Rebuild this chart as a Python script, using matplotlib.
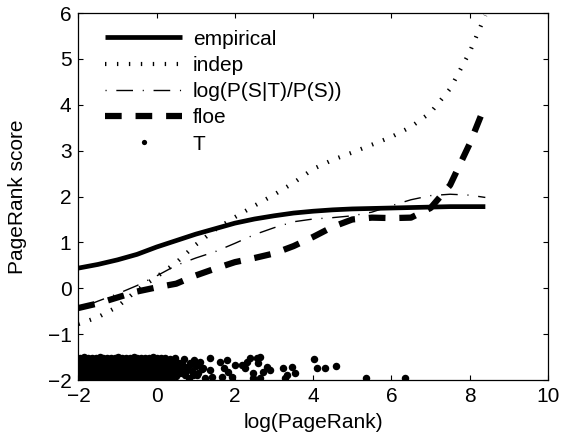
import matplotlib
matplotlib.use("Agg")
import matplotlib.pyplot as plt
import numpy as np

x_grid = [-2.0, -1.5, -1.0, -0.5, 0.0, 0.5, 1.0, 1.5, 2.0, 2.5, 3.0, 3.5,
          4.0, 4.5, 5.0, 5.5, 6.0, 6.5, 7.0, 7.5, 8.0, 8.4]
empirical = [0.44, 0.52, 0.62, 0.74, 0.90, 1.04, 1.18, 1.30, 1.42, 1.51, 1.58, 1.64,
             1.68, 1.71, 1.73, 1.74, 1.75, 1.76, 1.77, 1.78, 1.78, 1.78]
indep = [-0.78, -0.63, -0.40, -0.04, 0.25, 0.56, 0.95, 1.28, 1.55, 1.80, 2.04, 2.30,
         2.60, 2.80, 2.96, 3.13, 3.30, 3.52, 3.83, 4.35, 5.15, 5.95]
logratio = [-0.45, -0.28, -0.12, 0.06, 0.27, 0.50, 0.66, 0.80, 0.98, 1.17, 1.32, 1.45,
            1.51, 1.54, 1.58, 1.66, 1.80, 1.93, 2.02, 2.05, 2.03, 1.98]
floe = [-0.43, -0.33, -0.20, -0.07, 0.02, 0.10, 0.28, 0.43, 0.57, 0.66, 0.76, 0.92,
        1.12, 1.34, 1.50, 1.54, 1.53, 1.54, 1.75, 2.25, 3.15, 4.00]

# T points (log PageRank of the target set)
T_x = [
    -1.95, -1.85, -1.76, -1.66, -1.56, -1.46, -1.37, -1.27, -1.17, -1.07, -0.98, -0.88, -0.78,
    -0.68, -0.58, -0.49, -0.39, -0.29, -0.19, -0.09, 0.01, 0.11, 0.22, 0.33, 0.48,
    -1.97, -1.88, -1.79, -1.69, -1.60, -1.50, -1.41, -1.31, -1.21, -1.12, -1.02, -0.93, -0.83,
    -0.73, -0.63, -0.54, -0.44, -0.34, -0.25, -0.15, -0.05, 0.06, 0.16, 0.27, 0.40, 0.58,
    -1.94, -1.84, -1.75, -1.65, -1.55, -1.45, -1.36, -1.26, -1.16, -1.07, -0.97, -0.87, -0.78,
    -0.68, -0.58, -0.48, -0.39, -0.29, -0.20, -0.10, 0.00, 0.10, 0.21, 0.31, 0.44, 0.63,
    -1.96, -1.87, -1.78, -1.68, -1.58, -1.49, -1.39, -1.29, -1.20, -1.10, -1.00, -0.91, -0.81,
    -0.71, -0.61, -0.52, -0.42, -0.32, -0.23, -0.13, -0.03, 0.07, 0.17, 0.28, 0.38, 0.52,
    -1.95, -1.85, -1.76, -1.66, -1.57, -1.47, -1.37, -1.28, -1.18, -1.08, -0.99, -0.89, -0.79,
    -0.70, -0.60, -0.50, -0.41, -0.31, -0.21, -0.12, -0.02, 0.08, 0.19, 0.30, 0.42, 0.60,
    -1.97, -1.88, -1.78, -1.69, -1.59, -1.49, -1.40, -1.30, -1.20, -1.11, -1.01, -0.91, -0.82,
    -0.72, -0.62, -0.53, -0.43, -0.33, -0.24, -0.14, -0.04, 0.06, 0.15, 0.25, 0.36, 0.50,
    0.70, 0.78, 0.85, 0.72, 0.90, 0.95, 1.00, 0.82, 1.10, 0.66, 0.75, 0.93, 1.05, 1.15, 0.88,
    1.37, 1.07, 1.19, 1.03, 1.37, 1.41, 1.24, 1.62, 1.79, 1.71, 1.83, 1.66, 1.92,
    2.00, 2.18, 2.30, 2.39, 2.56, 2.60, 2.26, 2.47, 2.47, 2.73, 2.82, 2.90, 2.64,
    3.24, 3.33, 3.46, 3.54, 3.28, 2.64, 4.01, 4.09, 4.31, 4.59, 5.36, 6.34,
]
T_y = [
    -1.52, -1.50, -1.53, -1.51, -1.52, -1.50, -1.53, -1.52, -1.51, -1.53, -1.50, -1.52, -1.53,
    -1.51, -1.50, -1.52, -1.53, -1.51, -1.52, -1.50, -1.53, -1.51, -1.52, -1.54, -1.51,
    -1.60, -1.62, -1.59, -1.61, -1.60, -1.62, -1.59, -1.61, -1.60, -1.58, -1.62, -1.60, -1.61,
    -1.59, -1.62, -1.60, -1.61, -1.59, -1.60, -1.62, -1.61, -1.59, -1.60, -1.62, -1.60, -1.63,
    -1.68, -1.70, -1.67, -1.69, -1.68, -1.70, -1.67, -1.69, -1.68, -1.70, -1.67, -1.69, -1.68,
    -1.70, -1.67, -1.69, -1.68, -1.70, -1.67, -1.69, -1.68, -1.70, -1.67, -1.70, -1.68, -1.71,
    -1.76, -1.78, -1.75, -1.77, -1.76, -1.78, -1.75, -1.77, -1.76, -1.78, -1.75, -1.77, -1.76,
    -1.78, -1.75, -1.77, -1.76, -1.78, -1.75, -1.77, -1.76, -1.78, -1.75, -1.77, -1.79, -1.76,
    -1.84, -1.86, -1.83, -1.85, -1.84, -1.86, -1.83, -1.85, -1.84, -1.86, -1.83, -1.85, -1.84,
    -1.86, -1.83, -1.85, -1.84, -1.86, -1.83, -1.85, -1.84, -1.86, -1.83, -1.85, -1.87, -1.84,
    -1.92, -1.94, -1.91, -1.93, -1.92, -1.94, -1.91, -1.93, -1.92, -1.94, -1.91, -1.93, -1.92,
    -1.94, -1.91, -1.93, -1.92, -1.94, -1.91, -1.93, -1.92, -1.94, -1.91, -1.93, -1.95, -1.92,
    -1.55, -1.72, -1.62, -1.88, -1.80, -1.57, -1.70, -1.95, -1.60, -1.66, -1.80, -1.90, -1.84, -1.75, -1.66,
    -1.51, -1.63, -1.74, -1.89, -1.78, -1.93, -1.95, -1.60, -1.56, -1.74, -1.82, -1.93, -1.93,
    -1.67, -1.67, -1.60, -1.53, -1.53, -1.63, -1.74, -1.85, -1.96, -1.82, -1.71, -1.78, -1.96,
    -1.74, -1.89, -1.71, -1.85, -1.96, -1.49, -1.54, -1.73, -1.73, -1.69, -1.96, -1.96,
]

plt.rcParams["font.family"] = ["Liberation Sans", "DejaVu Sans"]
plt.rcParams["font.size"] = 15
plt.rcParams["lines.scale_dashes"] = False

fig = plt.figure(figsize=(5.74, 4.45), dpi=100)
ax = fig.add_axes([0.1366, 0.146, 0.818, 0.8247])

# the four curves
ax.plot(x_grid, empirical, color="black", lw=3.4, solid_capstyle="butt",
    label="empirical")
ax.plot(x_grid, indep, color="black", lw=3.0, dashes=(1.0, 7.6),
    dash_capstyle="butt", label="indep")
ax.plot(x_grid, logratio, color="black", lw=1.0, dashes=(0.8, 7.0, 12.0, 7.0),
    dash_capstyle="butt", label="log(P(S|T)/P(S))")
ax.plot(x_grid, floe, color="black", lw=4.5, dashes=(12.0, 10.0),
    dash_capstyle="butt", label="floe")
# the T points
ax.plot(T_x, T_y, linestyle="none", marker="o", markersize=5.4,
    markeredgewidth=0, color="black", label="T")

ax.set_xlim(-2, 10)
ax.set_ylim(-2, 6)
ax.set_xticks(np.arange(-2, 11, 2))
ax.set_yticks(np.arange(-2, 7, 1))
ax.tick_params(direction="in", top=True, right=True, length=3.5, width=0.8, pad=5)
for s in ax.spines.values():
    s.set_linewidth(0.9)

ax.set_xlabel("log(PageRank)", labelpad=5)
ax.set_ylabel("PageRank score", labelpad=15)

ax.legend(loc="upper left", bbox_to_anchor=(0.057, 0.955), frameon=False,
    borderpad=0, borderaxespad=0, handlelength=3.7, handletextpad=0.5,
    labelspacing=0.35, numpoints=1, markerscale=0.7)

plt.savefig("out.png", dpi=100)
